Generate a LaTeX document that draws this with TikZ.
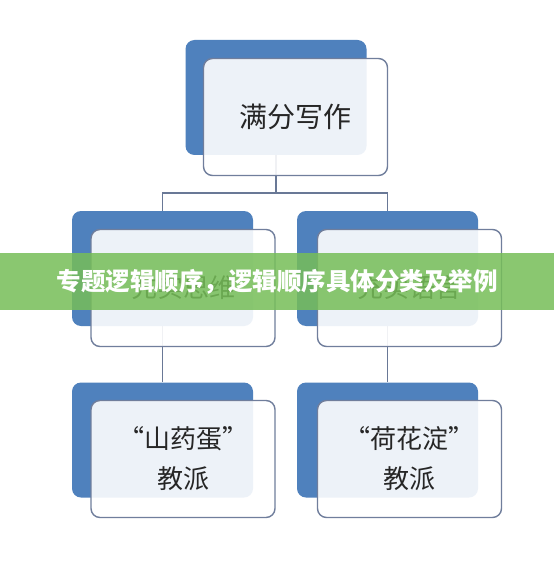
\documentclass[tikz,border=0pt]{standalone}
\usepackage{fontspec}
\usepackage{tikz}
\usetikzlibrary{positioning,calc}
\setmainfont{Noto Sans CJK SC}
\definecolor{backblue}{RGB}{79,129,189}
\definecolor{frameblue}{RGB}{112,126,156}
\definecolor{linegray}{RGB}{105,120,150}
\definecolor{textgray}{RGB}{38,38,38}
\definecolor{bannergreen}{RGB}{118,190,88}

\begin{document}
\begin{tikzpicture}[x=1pt, y=-1pt, semithick]
\tikzstyle{back}=[fill=backblue, rounded corners=9pt, minimum width=181pt, minimum height=115pt, inner sep=0pt]
\tikzstyle{front}=[draw=frameblue, line width=1.4pt, fill=white, fill opacity=0.9, text opacity=1, rounded corners=9pt, minimum width=184pt, minimum height=117pt, inner sep=0pt, text=textgray, align=center]
\tikzstyle{conn}=[draw=linegray, line width=1.4pt]
\useasboundingbox (0,0) rectangle (554,564);
\fill[white] (0,0) rectangle (554,564);
% back boxes
\node[back] (tb)  at (276,97.5)  {};
\node[back] (lb)  at (162.5,268.5) {};
\node[back] (rb)  at (387.5,268.5) {};
\node[back] (lbb) at (162.5,440) {};
\node[back] (rbb) at (387.5,440) {};
% connectors
\coordinate (j) at (276,193);
\draw[conn] (tb.south) -- (j);
\draw[conn] (lb.north) |- (j) -| (rb.north);
\draw[conn] (lb.south) -- (lbb.north);
\draw[conn] (rb.south) -- (rbb.north);
% front boxes
\node[front, font=\fontsize{28}{34}\selectfont] (tf)  at ($(tb)+(19.5,19.5)$)  {满分写作};
\node[front, font=\fontsize{26}{34}\selectfont] (lf)  at ($(lb)+(20.5,19.5)$)  {充实思维};
\node[front, font=\fontsize{26}{34}\selectfont] (rf)  at ($(rb)+(22,19.5)$)  {充实语言};
\node[front, font=\fontsize{26}{40}\selectfont] (lbf) at ($(lbb)+(20.5,19)$) {“山药蛋”\\教派};
\node[front, font=\fontsize{26}{40}\selectfont] (rbf) at ($(rbb)+(22,19)$)  {“荷花淀”\\教派};
% banner
\node[fill=bannergreen, fill opacity=0.85, text opacity=1, text=white, minimum width=554pt, minimum height=57pt, inner sep=0pt, font=\bfseries\fontsize{24.5}{26}\selectfont] (banner) at (277,281.5) {专题逻辑顺序，逻辑顺序具体分类及举例};
\end{tikzpicture}
\end{document}
